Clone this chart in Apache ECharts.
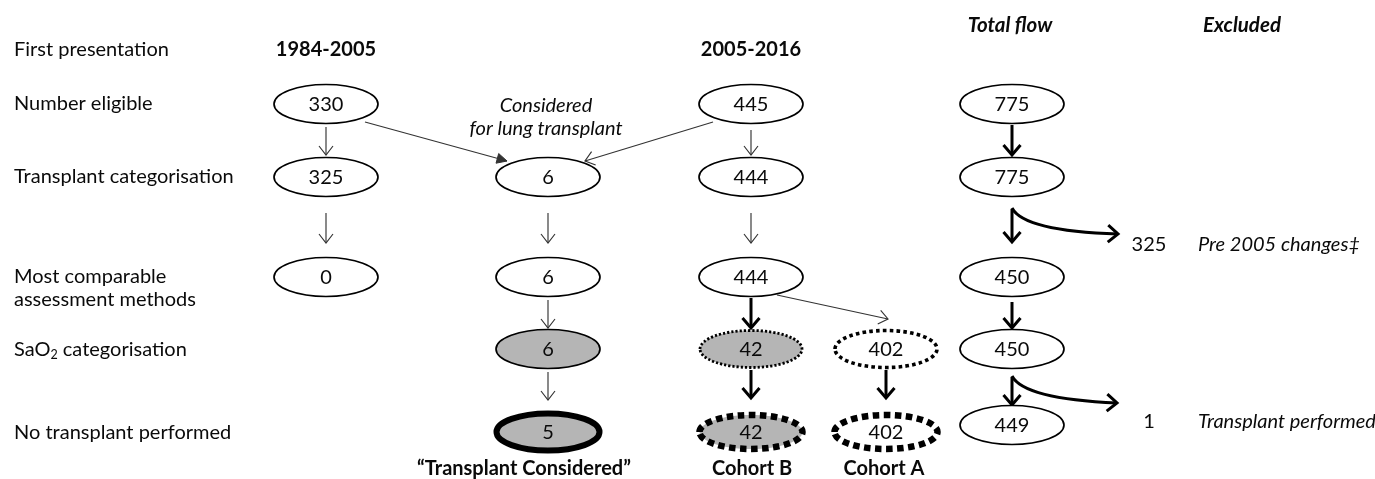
<!DOCTYPE html>
<html>
<head>
<meta charset="utf-8">
<script src="https://cdn.jsdelivr.net/npm/echarts@6/dist/echarts.min.js"></script>
<style>
html,body{margin:0;padding:0;background:#ffffff;}
#chart{width:1375px;height:479px;}
</style>
</head>
<body>
<div id="chart"></div>
<script>
// ---------------- DATA ----------------
const rowLabels = ['First presentation', 'Number eligible', 'Transplant categorisation',
  'Most comparable\nassessment methods', '{n|SaO}{sub|2}{n| categorisation}', 'No transplant performed'];
const periodLabels = ['1984-2005', '2005-2016'];
const columnHeaders = ['Total flow', 'Excluded'];
const consideredNote = 'Considered\nfor lung transplant';
const early = [330, 325, 0];               // 1984-2005 column
const considered = [6, 6, 6, 5];           // considered for lung transplant
const late = [445, 444, 444, 42, 42];      // 2005-2016 column (Cohort B path)
const cohortA = [402, 402];                // Cohort A path
const totalFlow = [775, 775, 450, 450, 449];
const excludedCounts = [325, 1];
const excludedReasons = ['Pre 2005 changes\u2021', 'Transplant performed'];
const groupLabels = ['\u201CTransplant Considered\u201D', 'Cohort B', 'Cohort A'];

// ---------------- LAYOUT ----------------
const W = 1375, H = 479;
const FONT = 'Lato, "Open Sans", sans-serif';
const INK = '#0a0a0a';
const FS = 20;
const X = { label: 14, early: 326, cons: 548, late: 751, cohA: 886, total: 1012, exclN: 1149, exclT: 1198, excl: 1242 };
const Y = { top: 25, head: 50, elig: 104, cat: 177, comp: 277, sao: 349, none: 432, noneTotal: 425, ex1: 245, ex2: 422, group: 469 };
const labelRowY = [Y.head, Y.elig, Y.cat, 288, 350, 433];

const nodeStyles = {
  plain:       { fill: '#ffffff', lw: 1.7, rx: 52, ry: 19.5 },
  grey:        { fill: '#b5b5b5', lw: 1.7, rx: 52, ry: 19.5 },
  greyHeavy:   { fill: '#b5b5b5', lw: 6, rx: 51.5, ry: 18.5 },
  greyDotted:  { fill: '#b5b5b5', lw: 2.8, rx: 51, ry: 18.5, dash: [2.2, 2] },
  whiteDotted: { fill: '#ffffff', lw: 3.6, rx: 51, ry: 18.5, dash: [3.6, 3.2] },
  greyDashed:  { fill: '#b5b5b5', lw: 6.5, rx: 51.5, ry: 17, dash: [6.5, 4.5] },
  whiteDashed: { fill: '#ffffff', lw: 6.5, rx: 51.5, ry: 17, dash: [6.5, 4.5] }
};

const nodes = [];
const nodeById = {};
function addColumn(prefix, x, rows, values, styles) {
  values.forEach((v, i) => {
    const n = { id: prefix + i, x: x, y: rows[i], value: v, style: styles[i] };
    nodes.push(n); nodeById[n.id] = n;
  });
}
addColumn('e', X.early, [Y.elig, Y.cat, Y.comp], early, ['plain', 'plain', 'plain']);
addColumn('c', X.cons, [Y.cat, Y.comp, Y.sao, Y.none], considered, ['plain', 'plain', 'grey', 'greyHeavy']);
addColumn('l', X.late, [Y.elig, Y.cat, Y.comp, Y.sao, Y.none], late, ['plain', 'plain', 'plain', 'greyDotted', 'greyDashed']);
addColumn('a', X.cohA, [Y.sao, Y.none], cohortA, ['whiteDotted', 'whiteDashed']);
addColumn('t', X.total, [Y.elig, Y.cat, Y.comp, Y.sao, Y.noneTotal], totalFlow, ['plain', 'plain', 'plain', 'plain', 'plain']);

// edges: from, to, anchor offsets (relative to node centres), kind
const edgeLayout = [
  { from: 'e0', to: 'e1', a1: [0, 23], a2: [0, -22], kind: 'thin' },
  { from: 'e1', to: 'e2', a1: [0, 36], a2: [0, -34], kind: 'thin' },
  { from: 'c0', to: 'c1', a1: [0, 36], a2: [0, -34], kind: 'thin' },
  { from: 'c1', to: 'c2', a1: [0, 23], a2: [0, -21], kind: 'thin' },
  { from: 'c2', to: 'c3', a1: [0, 23], a2: [0, -32], kind: 'thin' },
  { from: 'l0', to: 'l1', a1: [0, 26], a2: [0, -22], kind: 'thin' },
  { from: 'l1', to: 'l2', a1: [0, 36], a2: [0, -34], kind: 'thin' },
  { from: 'e0', to: 'c0', a1: [39, 18], a2: [-41, -16], kind: 'thinFilled' },
  { from: 'l0', to: 'c0', a1: [-38, 18], a2: [37, -16], kind: 'thin' },
  { from: 'l2', to: 'a0', a1: [26, 18], a2: [2, -30], kind: 'thin' },
  { from: 'l2', to: 'l3', a1: [0, 21], a2: [0, -21], kind: 'thick' },
  { from: 'l3', to: 'l4', a1: [0, 21], a2: [0, -34], kind: 'thick' },
  { from: 'a0', to: 'a1', a1: [0, 21], a2: [0, -34], kind: 'thick' },
  { from: 't0', to: 't1', a1: [0, 21], a2: [0, -22], kind: 'thick' },
  { from: 't1', to: 't2', a1: [0, 32], a2: [0, -35], kind: 'thick', branch: { end: [106, 25], cp: [12, 22] } },
  { from: 't2', to: 't3', a1: [0, 25], a2: [0, -21], kind: 'thick' },
  { from: 't3', to: 't4', a1: [0, 28], a2: [0, -20], kind: 'thick', branch: { end: [105, 26], cp: [12, 22] } }
];

// text items
const textItems = [];
rowLabels.forEach((t, i) => textItems.push({ x: X.label, y: labelRowY[i], text: t, align: 'left' }));
periodLabels.forEach((t, i) => textItems.push({ x: [X.early, X.late][i], y: Y.head, text: t, align: 'center', weight: 'bold' }));
columnHeaders.forEach((t, i) => textItems.push({ x: [X.total - 2, X.excl][i], y: Y.top, text: t, align: 'center', weight: 'bold', italic: true, size: 20.5 }));
textItems.push({ x: X.cons - 2, y: 117, text: consideredNote, align: 'center', italic: true });
excludedCounts.forEach((v, i) => textItems.push({ x: X.exclN, y: [Y.ex1, Y.ex2][i], text: String(v), align: 'center' }));
excludedReasons.forEach((t, i) => textItems.push({ x: X.exclT, y: [Y.ex1, Y.ex2][i], text: t, align: 'left', italic: true }));
groupLabels.forEach((t, i) => textItems.push({ x: [524, 752, 884][i], y: Y.group, text: t, align: 'center', weight: 'bold' }));

// ---------------- RENDER ----------------
function arrowHead(tip, from, len, half) {
  const dx = tip[0] - from[0], dy = tip[1] - from[1];
  const L = Math.hypot(dx, dy) || 1;
  const ux = dx / L, uy = dy / L;
  const bx = tip[0] - ux * len, by = tip[1] - uy * len;
  return [[bx - uy * half, by + ux * half], [tip[0], tip[1]], [bx + uy * half, by - ux * half]];
}
const edgeKinds = {
  thin: { color: '#333333', lw: 1.15, len: 9, half: 7, filled: false },
  thinFilled: { color: '#333333', lw: 1.15, len: 10, half: 5, filled: true },
  thick: { color: '#000000', lw: 3, len: 10, half: 8.5, filled: false }
};

function renderEdge(params, api) {
  const e = edgeLayout[api.value(4)];
  const k = edgeKinds[e.kind];
  const p1 = api.coord([api.value(0), api.value(1)]);
  const p2 = api.coord([api.value(2), api.value(3)]);
  const children = [];
  children.push({ type: 'line', shape: { x1: p1[0], y1: p1[1], x2: p2[0], y2: p2[1] },
    style: { stroke: k.color, lineWidth: k.lw, lineCap: 'butt' } });
  const h = arrowHead(p2, p1, k.len, k.half);
  if (k.filled) {
    children.push({ type: 'polygon', shape: { points: h }, style: { fill: k.color, stroke: k.color, lineWidth: 1 } });
  } else {
    children.push({ type: 'polyline', shape: { points: h }, style: { fill: null, stroke: k.color, lineWidth: k.lw, lineJoin: 'miter' } });
  }
  if (e.branch) {
    const s = api.coord([api.value(0), api.value(1) - 1]);
    const end = api.coord([api.value(0) + e.branch.end[0], api.value(1) + e.branch.end[1]]);
    const cp = api.coord([api.value(0) + e.branch.cp[0], api.value(1) + e.branch.cp[1]]);
    children.push({ type: 'bezierCurve', shape: { x1: s[0], y1: s[1], x2: end[0], y2: end[1], cpx1: cp[0], cpy1: cp[1] },
      style: { stroke: k.color, lineWidth: k.lw, fill: null } });
    const bh = arrowHead(end, cp, k.len, k.half);
    children.push({ type: 'polyline', shape: { points: bh }, style: { fill: null, stroke: k.color, lineWidth: k.lw, lineJoin: 'miter' } });
  }
  return { type: 'group', children: children };
}

function renderNode(params, api) {
  const n = nodes[api.value(3)];
  const s = nodeStyles[n.style];
  const c = api.coord([api.value(0), api.value(1)]);
  return {
    type: 'group',
    children: [
      { type: 'ellipse', shape: { cx: c[0], cy: c[1], rx: s.rx, ry: s.ry },
        style: { fill: s.fill, stroke: '#000', lineWidth: s.lw, lineDash: s.dash || null } },
      { type: 'text', style: { text: String(api.value(2)), x: c[0], y: c[1] + 1, align: 'center', verticalAlign: 'middle',
        fontFamily: FONT, fontSize: 20, fill: INK } }
    ]
  };
}

function renderText(params, api) {
  const t = textItems[api.value(2)];
  const c = api.coord([api.value(0), api.value(1)]);
  const fs = t.size || FS;
  return {
    type: 'text',
    style: {
      text: t.text, x: c[0], y: c[1], align: t.align, verticalAlign: 'middle',
      fontFamily: FONT, fontSize: fs, fontWeight: t.weight || 'normal', fontStyle: t.italic ? 'italic' : 'normal',
      fill: INK, lineHeight: 23,
      rich: {
        n: { fontFamily: FONT, fontSize: fs, lineHeight: 23, fill: INK },
        sub: { fontFamily: FONT, fontSize: 12.5, lineHeight: 12, verticalAlign: 'bottom', fill: INK }
      }
    }
  };
}

const edgeData = edgeLayout.map((e, i) => {
  const a = nodeById[e.from], b = nodeById[e.to];
  return [a.x + e.a1[0], a.y + e.a1[1], b.x + e.a2[0], b.y + e.a2[1], i];
});
const nodeData = nodes.map((n, i) => [n.x, n.y, n.value, i]);
const textData = textItems.map((t, i) => [t.x, t.y, i]);

const chart = echarts.init(document.getElementById('chart'), null, { renderer: 'canvas' });
chart.setOption({
  animation: false,
  backgroundColor: '#ffffff',
  grid: { left: 0, right: 0, top: 0, bottom: 0 },
  xAxis: { type: 'value', min: 0, max: W, show: false },
  yAxis: { type: 'value', min: 0, max: H, inverse: true, show: false },
  series: [
    { type: 'custom', name: 'edges', renderItem: renderEdge, data: edgeData, clip: false, silent: true,
      encode: { x: [0, 2], y: [1, 3] }, z: 1 },
    { type: 'custom', name: 'nodes', renderItem: renderNode, data: nodeData, clip: false, silent: true,
      encode: { x: 0, y: 1 }, z: 2 },
    { type: 'custom', name: 'text', renderItem: renderText, data: textData, clip: false, silent: true,
      encode: { x: 0, y: 1 }, z: 3 }
  ]
});
</script>
</body>
</html>
